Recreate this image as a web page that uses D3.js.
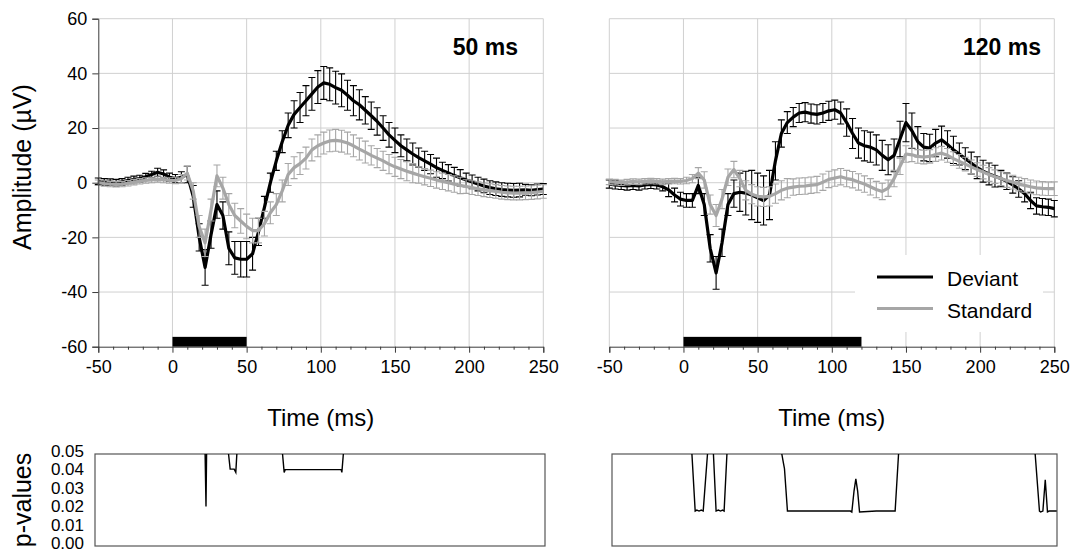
<!DOCTYPE html>
<html>
<head>
<meta charset="utf-8">
<script src="https://cdn.jsdelivr.net/npm/d3@7"></script>
<style>
body{margin:0;background:#fff;}
text{font-family:"Liberation Sans",Arial,sans-serif;fill:#000;}
</style>
</head>
<body>
<script>
// sample times (ms)
var times = [-50,-46,-42,-38,-34,-30,-26,-22,-18,-14,
  -10,-6,-2,2,6,10,14,18,22,26,
  30,34,38,42,46,50,54,58,62,66,
  70,74,78,82,86,90,94,98,102,106,
  110,114,118,122,126,130,134,138,142,146,
  150,154,158,162,166,170,174,178,182,186,
  190,194,198,202,206,210,214,218,222,226,
  230,234,238,242,246,250];

// 50 ms panel
var dev50 = [0.5,0.3,0.2,0.0,0.3,0.8,1.2,1.5,2.2,3.0,
  3.8,3.2,2.0,1.5,2.0,3.0,-5,-20,-31,-19,
  -8,-12,-24,-27.5,-28,-28,-26,-18,-9,0,
  8,15,21,25,27.5,30,32.5,35,36.5,36,
  34.8,33.8,32,30,28.5,26.5,24.5,22.4,20,17.5,
  15.5,13.5,12,10.5,9.2,8,6.8,5.5,4.5,3.6,
  2.6,1.8,1.0,0.3,-0.5,-1.2,-1.8,-2.2,-2.5,-2.7,
  -2.8,-2.7,-2.6,-2.8,-2.5,-2.3];
var dev50Err = [1.2,1.2,1.2,1.2,1.2,1.2,1.2,1.2,1.2,1.2,
  1.5,1.5,1.5,1.5,2,3,4,5,6.5,5,
  5,5,6,6,6.5,6.5,6,5,4,3.5,
  3.5,4,4.5,5,5.5,5.5,6,6,6,6,
  6,6,5.5,5.5,5.5,5,5,5,4.5,4.5,
  4.5,4,4,4,3.5,3.5,3.5,3.5,3,3,
  3,3,2.5,2.5,2.5,2.5,2.5,2.5,2.5,2.5,
  2.5,2.5,2,2,2,2];
var std50 = [0.0,-0.3,-0.5,-0.6,-0.5,-0.2,0.2,0.5,0.8,1.0,
  1.2,1.0,0.8,0.8,1.5,3.5,-3,-16,-22,-10,
  2.5,-2,-8,-12,-14,-16,-17.5,-17.5,-15,-11,
  -8,-3,3,5.5,7,9,12,13.5,14.5,15.3,
  15.5,15.2,14.5,13.5,12.3,11.2,10,9,8,6.8,
  5.8,5,4.2,3.5,2.8,2.2,1.6,1.0,0.5,0.0,
  -0.5,-1.0,-1.4,-1.8,-2.2,-2.6,-2.9,-3.2,-3.5,-3.7,
  -3.8,-3.8,-3.7,-3.6,-3.4,-3.2];
var std50Err = [1,1,1,1,1,1,1,1,1,1,
  1,1,1,1.2,1.5,2.5,3,4,5,4,
  4,4,4,4.5,4.5,4.5,4.5,4.5,4.5,4,
  4,4,4,4,4,4,4,4,4,4,
  4,4,4,4,4,4,3.5,3.5,3.5,3.5,
  3.5,3.5,3.5,3.5,3,3,3,3,3,3,
  3,3,2.5,2.5,2.5,2.5,2.5,2.5,2.5,2.5,
  2.5,2.5,2.5,2.5,2.5,2.5];

// 120 ms panel
var dev120 = [-0.5,-0.8,-1.0,-1.2,-1.0,-1.2,-0.8,-0.6,-0.8,-1.5,
  -2.6,-4.5,-6,-6.5,-6.5,-1,-8,-24,-33,-22,
  -8,-4,-3.5,-3.8,-4.5,-5.5,-6.5,-4.5,8,18,
  22,24,25.5,25.8,25.3,25,25.5,26.3,26.7,25.5,
  22,18,14.5,13.5,13,12,10,8.4,10,16,
  22,19,15,13,12.7,14.5,15.7,14,12,10.5,
  8.8,7.2,5.5,4.2,3.2,2.4,1.5,0.5,-0.8,-2.3,
  -4,-6.5,-8.5,-8.8,-9,-9.5];
var dev120Err = [1.5,1.5,1.5,1.5,1.5,1.5,1.5,1.5,1.5,1.5,
  2.5,2.5,2.5,2.5,2.5,3,4,5,6,5,
  4,5,7,8,9,9,9,9,7,5,
  4,3.5,3.5,3.5,3.5,3.5,3.5,3.5,3.5,4,
  5,5.5,5.5,5.5,5.5,5.5,5.5,5.5,6,6.5,
  7,6.5,5.5,5,5,5,5,5,5,4,
  4,4,4,4,4,4,3,3,3,3,
  3,3,3,3,3,3];
var std120 = [0.3,0.2,0.0,0.2,0.4,0.3,0.5,0.6,0.5,0.3,
  0.5,0.6,0.5,0.8,1.5,3.5,1,-8,-12,-6,
  2,4.8,1.5,-2.8,-4.2,-5,-5.2,-5,-4,-2.8,
  -2,-1.6,-1.3,-1.2,-0.9,-0.7,0.2,1.2,1.7,2.2,
  1.5,1.1,0.3,-0.5,-1.5,-2.5,-3.2,-2,1.5,6,
  10.5,10.2,9.6,9.4,9.6,10.3,10.8,10,8.8,7.8,
  6.8,5.8,4.8,3.9,3.0,2.2,1.5,0.8,0.2,-0.5,
  -1.0,-1.5,-1.9,-2.1,-2.2,-2.2];
var std120Err = [1,1,1,1,1,1,1,1,1,1,
  1,1,1,1.2,1.5,2,3,3.5,4,3.5,
  3,3,3,3.5,3.5,3.5,3.5,3.5,3.5,3.5,
  3.5,3,3,3,3,3,3,3,3,3,
  3,3,3,3,3,3,3,3,3,3,
  3,2.5,2.5,2.5,2.5,2.5,2.5,2.5,2.5,2.5,
  2.5,2.5,2.5,2.5,2.5,2.5,2.5,2.5,2.5,2.5,
  2.5,2.5,2.5,2.5,2.5,2.5];

// p-value traces (only the parts below 0.05)
var pTimes50 = [[22.0,22.6,23.0],
  [37.8,38.9,41.6,42.7,43.4],
  [74.2,75.3,76,113.7,114.2,115.2]];
var pVals50 = [[0.05,0.0215,0.05],
  [0.05,0.0418,0.0418,0.040,0.05],
  [0.05,0.040,0.0415,0.0415,0.040,0.05]];
var pTimes120 = [[5.7,7.9,9,10.5,12,13.3,16.2],
  [20.2,22,23.5,25,26.3,27.4,29.3],
  [66.3,67.4,68.1,70.1,90,112.5,113.5,115,116.2,117.4,118.7,130,142.7,145],
  [237.1,240,240.8,242.3,243.9,245.4,246.5,251.6]];
var pVals120 = [[0.05,0.019,0.0195,0.019,0.0195,0.019,0.05],
  [0.05,0.019,0.0195,0.019,0.0195,0.019,0.05],
  [0.05,0.045,0.042,0.019,0.019,0.019,0.0185,0.03,0.0365,0.03,0.0185,0.019,0.019,0.05],
  [0.05,0.019,0.0185,0.019,0.036,0.0185,0.019,0.019]];

var xTicks = [-50,0,50,100,150,200,250];
var xMinor = [-40,-30,-20,-10,10,20,30,40,60,70,80,90,110,120,130,140,160,170,180,190,210,220,230,240];
var yTicks = [-60,-40,-20,0,20,40,60];
var pTicks = [0,0.01,0.02,0.03,0.04,0.05];
var stimEnd = [50,120];
var panelTitles = ["50 ms","120 ms"];
var seriesNames = ["Deviant","Standard"];

var devColor = "#000000";
var stdColor = "#a6a6a6";
var gridColor = "#d0d0d0";
var axisColor = "#3a3a3a";

var svg = d3.select("body").append("svg").attr("width",1071).attr("height",553);

var y = d3.scaleLinear().domain([-60,60]).range([346.7,18.7]);
var py = d3.scaleLinear().domain([0,0.05]).range([546,454]);

function plainNum(d){ return String(d); }

function drawGrid(g, x, withLeft){
  var vx = xTicks.filter(function(d){ return withLeft || d > -50; });
  g.selectAll("line.vg").data(vx).enter().append("line")
    .attr("x1",function(d){return x(d);}).attr("x2",function(d){return x(d);})
    .attr("y1",y(60)).attr("y2",y(-60))
    .attr("stroke",gridColor).attr("stroke-width",1);
  g.selectAll("line.hg").data(yTicks.filter(function(d){return d > -60;})).enter().append("line")
    .attr("x1",x(-50)).attr("x2",x(250))
    .attr("y1",function(d){return y(d);}).attr("y2",function(d){return y(d);})
    .attr("stroke",gridColor).attr("stroke-width",1);
}

function drawSeries(g, x, vals, errs, color){
  var pts = times.map(function(t,i){ return {t:t, v:vals[i], e:errs[i]}; });
  g.append("g").selectAll("path").data(pts).enter().append("path")
    .attr("d",function(d){
      var cx = x(d.t), yt = y(d.v + d.e), yb = y(d.v - d.e);
      return "M"+(cx-3.5)+","+yt+"H"+(cx+3.5)+"M"+cx+","+yt+"V"+yb+"M"+(cx-3.5)+","+yb+"H"+(cx+3.5);
    })
    .attr("fill","none").attr("stroke",color).attr("stroke-width",1.1);
  var line = d3.line().x(function(d){return x(d.t);}).y(function(d){return y(d.v);});
  g.append("path").datum(pts).attr("d",line)
    .attr("fill","none").attr("stroke",color).attr("stroke-width",3.2)
    .attr("stroke-linejoin","round");
}

function drawAxes(g, x, withY){
  var xa = g.append("g").attr("transform","translate(0,"+y(-60)+")")
    .call(d3.axisBottom(x).tickValues(xTicks).tickSize(6).tickPadding(8).tickFormat(plainNum));
  var xm = g.append("g").attr("transform","translate(0,"+y(-60)+")")
    .call(d3.axisBottom(x).tickValues(xMinor).tickSize(3).tickFormat(""));
  xm.select(".domain").remove();
  [xa, xm].forEach(function(a){
    a.selectAll("line").attr("stroke",axisColor);
    a.select(".domain").attr("stroke",axisColor);
  });
  xa.selectAll("text").attr("font-size",18).attr("font-family","Liberation Sans, Arial, sans-serif").attr("fill","#000");
  if(withY){
    var ya = g.append("g").attr("transform","translate("+x(-50)+",0)")
      .call(d3.axisLeft(y).tickValues(yTicks).tickSize(6).tickPadding(5).tickFormat(plainNum));
    ya.selectAll("line").attr("stroke",axisColor);
    ya.select(".domain").attr("stroke",axisColor);
    ya.selectAll("text").attr("font-size",18).attr("font-family","Liberation Sans, Arial, sans-serif").attr("fill","#000");
  }
}

function drawP(g, x, ts, vs, box, withLabels){
  g.append("rect").attr("x",box[0]).attr("y",py(0.05)).attr("width",box[1]-box[0]).attr("height",py(0)-py(0.05))
    .attr("fill","none").attr("stroke","#555").attr("stroke-width",1.2);
  var line = d3.line().x(function(d){return x(d[0]);}).y(function(d){return py(d[1]);});
  ts.forEach(function(seg,k){
    var pts = seg.map(function(t,i){ return [t, vs[k][i]]; });
    g.append("path").datum(pts).attr("d",line)
      .attr("fill","none").attr("stroke","#000").attr("stroke-width",1.4);
  });
  if(withLabels){
    g.selectAll("text.pt").data(pTicks).enter().append("text")
      .attr("x",box[0]-11).attr("y",function(d){return py(d) - 3;})
      .attr("dy","0.35em").attr("text-anchor","end").attr("font-size",17)
      .text(function(d){return d.toFixed(2);});
  }
}

function panel(x0, x1, idx){
  var x = d3.scaleLinear().domain([-50,250]).range([x0,x1]);
  var g = svg.append("g");
  drawGrid(g, x, idx == 1);
  var vals = idx == 0 ? [dev50, dev50Err, std50, std50Err] : [dev120, dev120Err, std120, std120Err];
  drawSeries(g, x, vals[0], vals[1], devColor);
  drawSeries(g, x, vals[2], vals[3], stdColor);
  // stimulus bar
  g.append("rect").attr("x",x(0)).attr("y",y(-56.4))
    .attr("width",x(stimEnd[idx])-x(0)).attr("height",y(-60)-y(-56.4)).attr("fill","#000");
  drawAxes(g, x, idx == 0);
  g.append("text").attr("x",(x0+x1)/2).attr("y",426).attr("text-anchor","middle")
    .attr("font-size",24).text("Time (ms)");
  g.append("text").attr("x",idx == 0 ? 518 : 1041).attr("y",55).attr("text-anchor","end")
    .attr("font-size",23).attr("font-weight","bold").text(panelTitles[idx]);
  return x;
}

var xL = panel(98.3, 543.3, 0);
var xR = panel(609.3, 1054.3, 1);

// legend
var lg = svg.append("g");
lg.append("rect").attr("x",855).attr("y",255).attr("width",188).attr("height",77).attr("fill","#fff");
[devColor, stdColor].forEach(function(c,i){
  var ly = 277 + i*31.5;
  lg.append("line").attr("x1",877).attr("x2",933).attr("y1",ly).attr("y2",ly)
    .attr("stroke",c).attr("stroke-width",3.2);
  lg.append("text").attr("x",947).attr("y",ly+9).attr("font-size",21).text(seriesNames[i]);
});

svg.append("text").attr("transform","translate(31,167) rotate(-90)").attr("text-anchor","middle")
  .attr("font-size",25).text("Amplitude (µV)");
svg.append("text").attr("transform","translate(31,500) rotate(-90)").attr("text-anchor","middle")
  .attr("font-size",25).text("p-values");

drawP(svg.append("g"), xL, pTimes50, pVals50, [95,545], true);
drawP(svg.append("g"), xR, pTimes120, pVals120, [612,1057], false);
</script>
</body>
</html>
